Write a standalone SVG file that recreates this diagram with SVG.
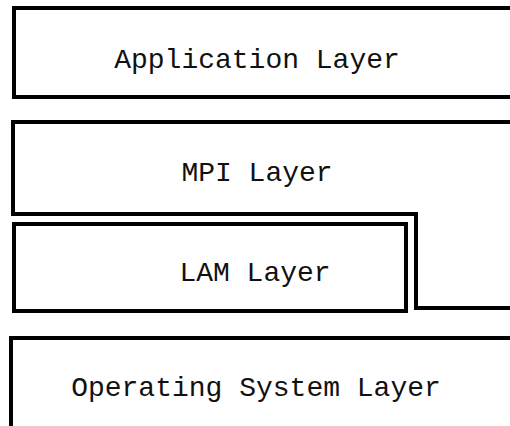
<svg xmlns="http://www.w3.org/2000/svg" width="510" height="426" viewBox="0 0 510 426">
<style>
.box{fill:#fff;stroke:#000;stroke-width:4;stroke-linejoin:miter}
.lbl{font-family:"Liberation Mono","Courier New",monospace;font-size:28px;fill:#111;text-anchor:middle}
</style>
<rect width="510" height="426" fill="#fff"/>
<g id="application">
<path class="box" d="M530,8 H14 V97 H530"/>
<text class="lbl" x="257" y="68">Application Layer</text>
</g>
<g id="mpi">
<path class="box" d="M530,122 H13 V214 H416 V308 H530"/>
<text class="lbl" x="257" y="181">MPI Layer</text>
</g>
<g id="lam">
<rect class="box" x="14" y="224" width="392" height="87"/>
<text class="lbl" x="255" y="281">LAM Layer</text>
</g>
<g id="os">
<path class="box" d="M530,338 H11 V440"/>
<text class="lbl" x="256" y="396">Operating System Layer</text>
</g>
<g id="connectors"/>
</svg>
